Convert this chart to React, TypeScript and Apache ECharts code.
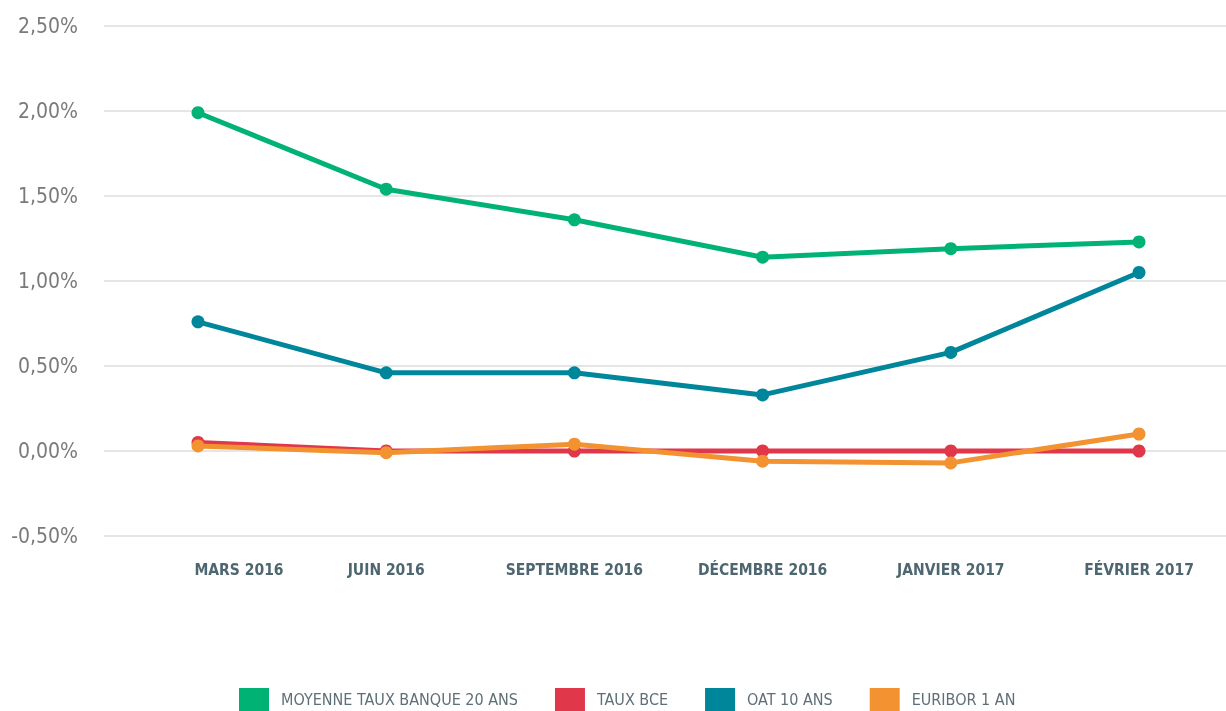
import React, { useEffect, useRef } from "react";
import * as echarts from "echarts";

const categories = ["MARS 2016", "JUIN 2016", "SEPTEMBRE 2016", "DÉCEMBRE 2016", "JANVIER 2017", "FÉVRIER 2017"];
const moyenneTaux = [1.99, 1.54, 1.36, 1.14, 1.19, 1.23];
const tauxBCE = [0.05, 0.0, 0.0, 0.0, 0.0, 0.0];
const oat10 = [0.76, 0.46, 0.46, 0.33, 0.58, 1.05];
const euribor = [0.03, -0.01, 0.04, -0.06, -0.07, 0.1];
const yTicks = { min: -0.5, max: 2.5, interval: 0.5 };

const seriesNames = ["MOYENNE TAUX BANQUE 20 ANS", "TAUX BCE", "OAT 10 ANS", "EURIBOR 1 AN"];
const colors = ["#00b274", "#e0374a", "#00869a", "#f39230"];

const condensed = "'Liberation Sans Narrow', 'DejaVu Sans Condensed', 'Roboto', sans-serif";

export default function App() {
  const ref = useRef<HTMLDivElement>(null);
  useEffect(() => {
    document.body.style.margin = "0";
    if (!ref.current) return;
    const chart = echarts.init(ref.current, null, { renderer: "svg" });
    const datas = [moyenneTaux, tauxBCE, oat10, euribor];
    chart.setOption({
      animation: false,
      color: colors,
      grid: [
        { left: 104, top: 26, right: 0, bottom: 175 },
        { left: 198, top: 26, right: 87, bottom: 175 },
      ],
      legend: {
        left: 239,
        bottom: 0,
        padding: 0,
        itemWidth: 30,
        itemHeight: 23,
        itemGap: 37,
        icon: "rect",
        textStyle: { fontFamily: condensed, fontSize: 16, color: "#5f6f77", padding: [0, 0, 0, 7] },
        data: seriesNames,
      },
      xAxis: [
        { type: "category", gridIndex: 0, data: categories, show: false },
        {
          type: "category",
          gridIndex: 1,
          boundaryGap: false,
          data: categories.map((c, i) =>
            i === 0 ? { value: c, textStyle: { padding: [0, 0, 0, 82] } } : c
          ),
          axisLine: { show: false },
          axisTick: { show: false },
          axisLabel: {
            margin: 26,
            fontFamily: condensed,
            fontWeight: "bold",
            fontSize: 15.5,
            color: "#4e6670",
            interval: 0,
          },
        },
      ],
      yAxis: [
        {
          type: "value",
          gridIndex: 0,
          ...yTicks,
          axisLine: { show: false },
          axisTick: { show: false },
          splitLine: { lineStyle: { color: "#dcdcdc", width: 1.5 } },
          axisLabel: {
            margin: 26,
            fontFamily: condensed,
            fontSize: 21,
            color: "#7a7a7a",
            formatter: (v: number) => v.toFixed(2).replace(".", ",") + "%",
          },
        },
        {
          type: "value",
          gridIndex: 1,
          ...yTicks,
          show: false,
          splitLine: { show: false },
        },
      ],
      series: seriesNames.map((name, i) => ({
        name,
        type: "line",
        xAxisIndex: 1,
        yAxisIndex: 1,
        data: datas[i],
        symbol: "circle",
        symbolSize: 13,
        lineStyle: { width: 5 },
        z: i === 3 ? 4 : i === 1 ? 2 : 3,
      })),
    });
    return () => chart.dispose();
  }, []);
  return <div ref={ref} style={{ position: "fixed", left: 0, top: 0, width: 1226, height: 711 }} />;
}
